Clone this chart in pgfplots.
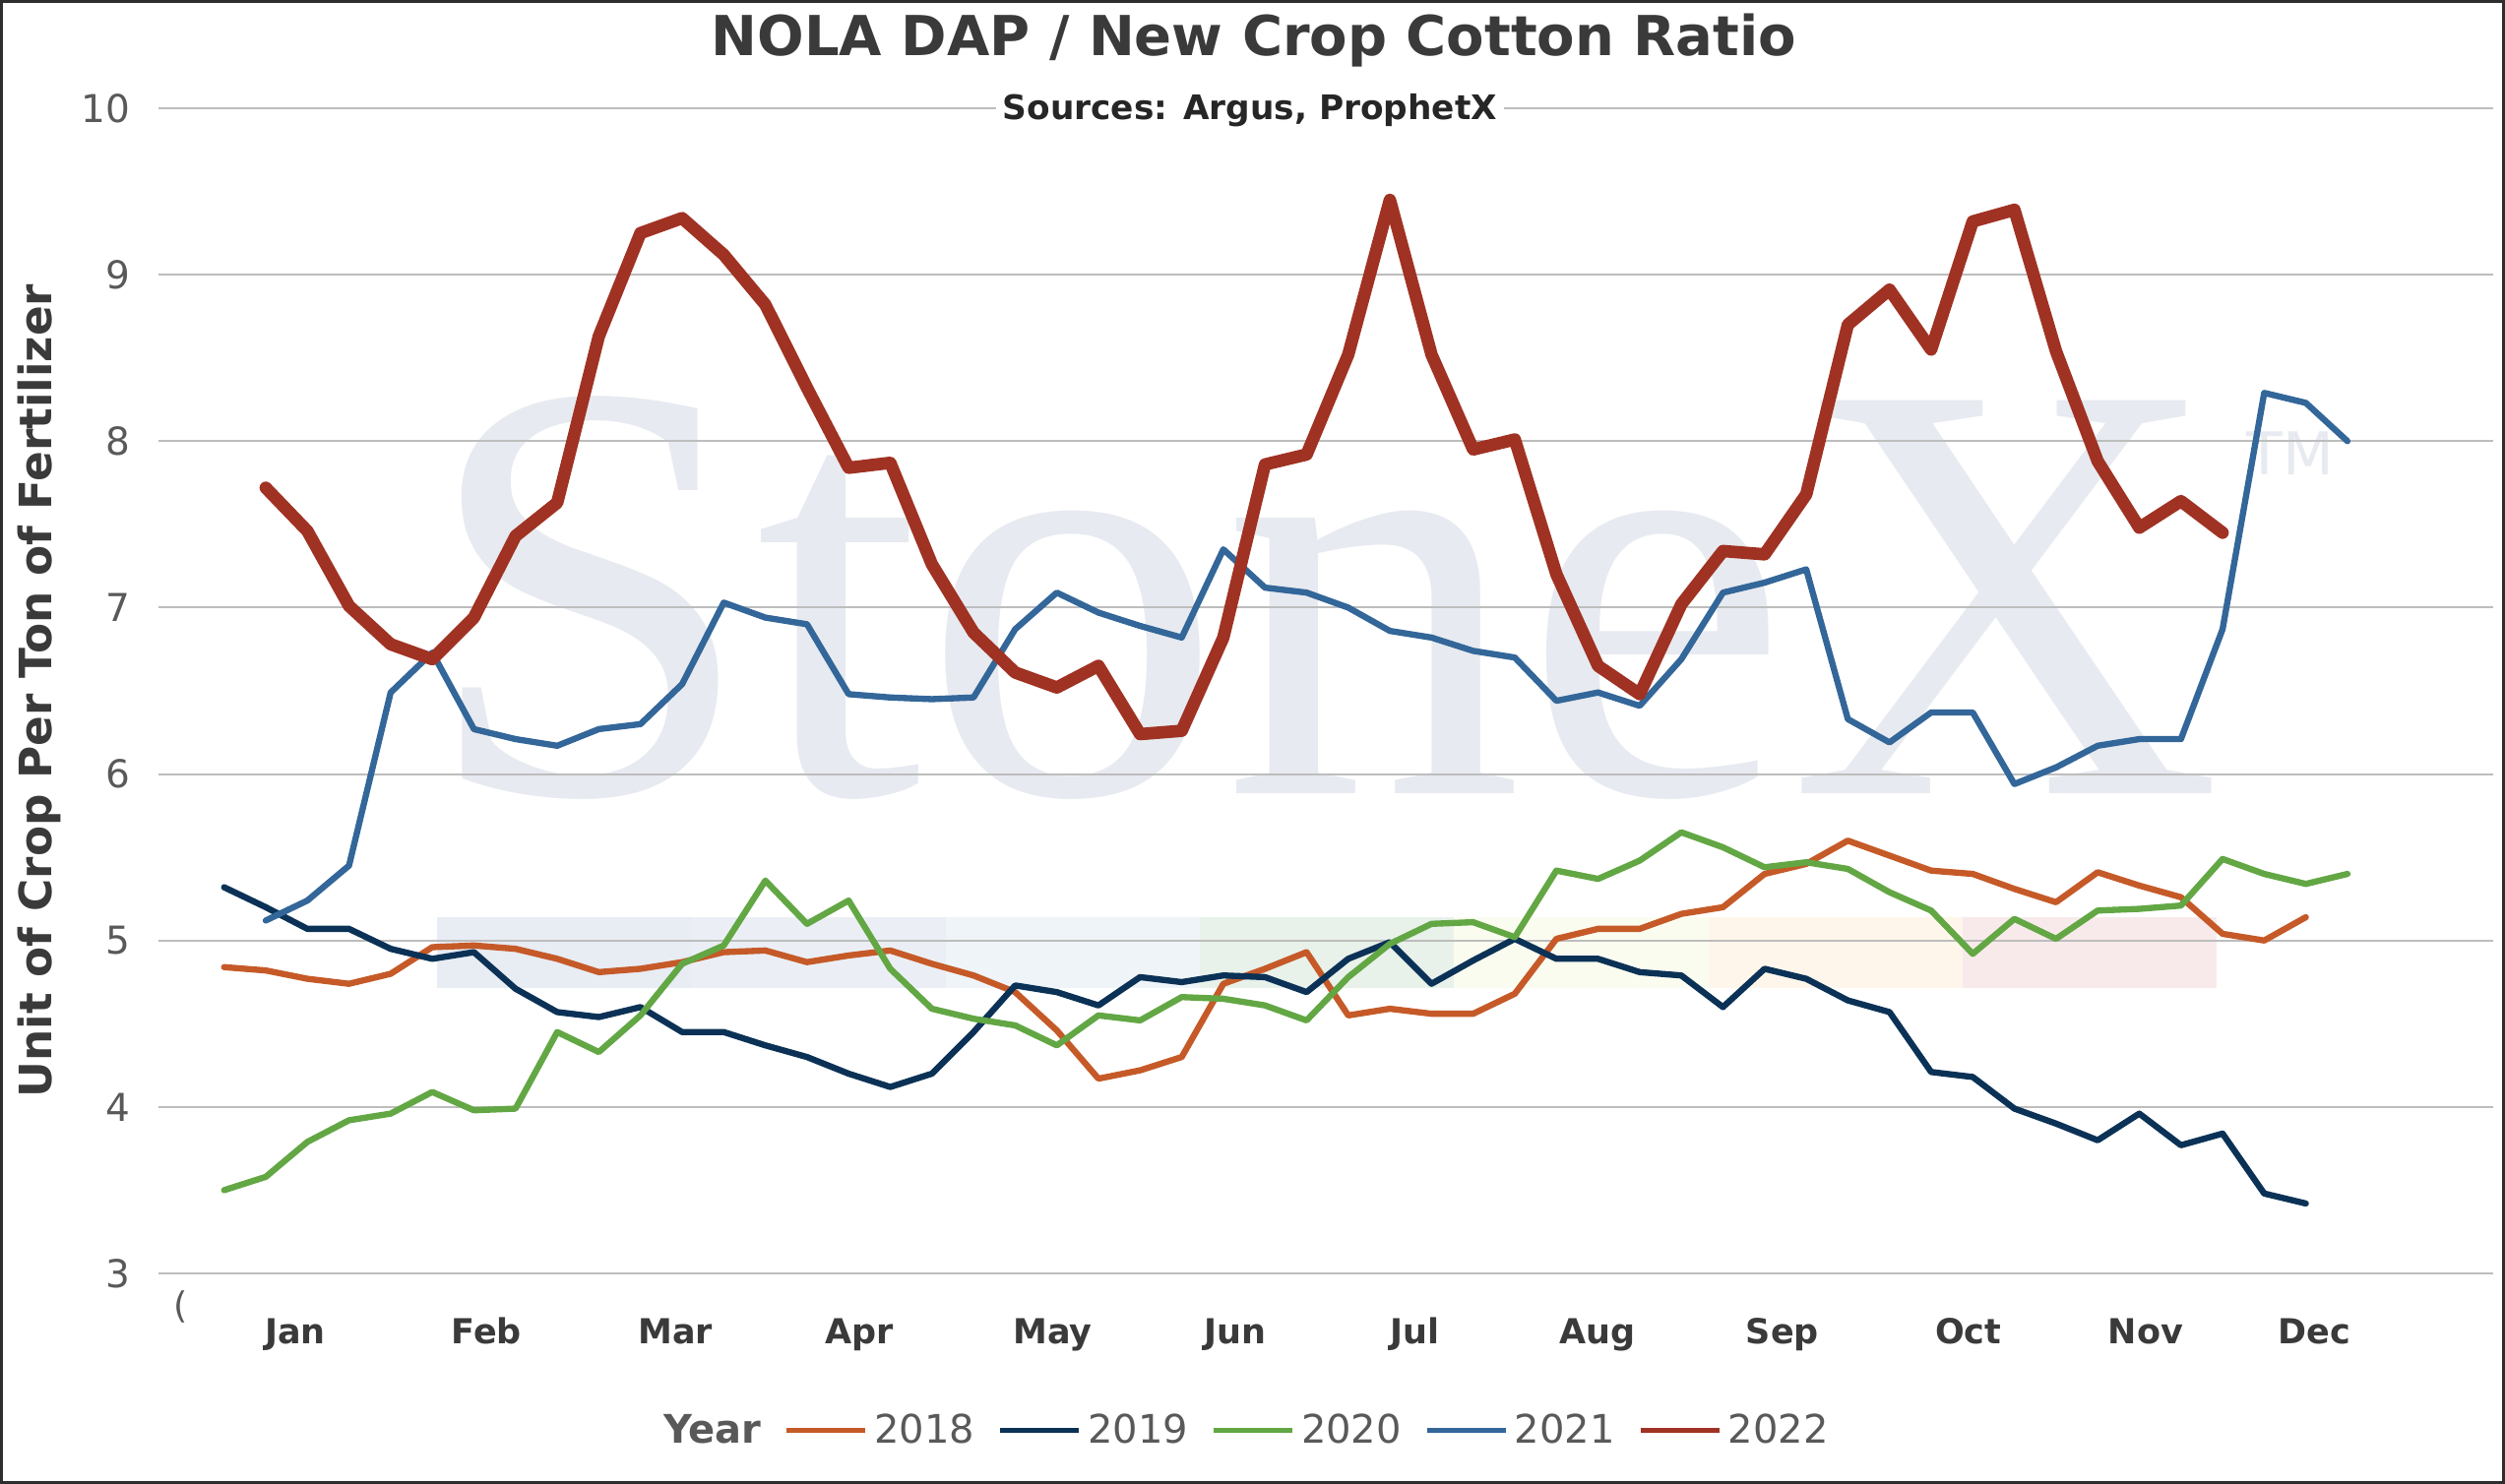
\documentclass[border=0pt]{standalone}
\usepackage{fontspec}
\setmainfont{DejaVu Sans}
\newfontfamily\wmfont{Liberation Serif}
\usepackage{pgfplots}
\pgfplotsset{compat=1.18}
\definecolor{c18}{HTML}{C55A28}
\definecolor{c19}{HTML}{0B3256}
\definecolor{c20}{HTML}{62A744}
\definecolor{c21}{HTML}{336699}
\definecolor{c22}{HTML}{A03223}
\definecolor{gridc}{HTML}{BDBDBD}
\definecolor{tickc}{HTML}{595959}
\definecolor{darkc}{HTML}{3A3A3A}
\definecolor{wm}{HTML}{E7EAF0}
\definecolor{s1}{HTML}{E8ECF3}
\definecolor{s2}{HTML}{EBEFF5}
\definecolor{s3}{HTML}{EFF4F8}
\definecolor{s4}{HTML}{E8F1EA}
\definecolor{s5}{HTML}{FBFCF0}
\definecolor{s6}{HTML}{FEF6EB}
\definecolor{s7}{HTML}{F8EAEB}
\definecolor{framec}{HTML}{2E2E2E}
\begin{document}
\begin{tikzpicture}
\useasboundingbox (0pt,0pt) rectangle (763.5pt,452.4pt);
% decorative background strip and watermark
\fill[s1] (133.2pt,151.2pt) rectangle (210.75pt,172.8pt);
\fill[s2] (210.75pt,151.2pt) rectangle (288.3pt,172.8pt);
\fill[s3] (288.3pt,151.2pt) rectangle (365.8pt,172.8pt);
\fill[s4] (365.8pt,151.2pt) rectangle (443.0pt,172.8pt);
\fill[s5] (443.0pt,151.2pt) rectangle (520.65pt,172.8pt);
\fill[s6] (520.65pt,151.2pt) rectangle (598.05pt,172.8pt);
\fill[s7] (598.05pt,151.2pt) rectangle (675.5pt,172.8pt);
\node[anchor=base, inner sep=0pt, text=wm, font=\wmfont\fontsize{183}{183}\selectfont] at (403pt,210.3pt) {StoneX};
\node[inner sep=0pt, text=wm, font=\fontsize{18}{18}\selectfont] at (698.1pt,314.1pt) {TM};
\begin{axis}[
  scale only axis, width=711.69pt, height=355.2pt,
  at={(48.21pt,64.2pt)}, anchor=south west,
  xmin=-1.584, xmax=54.5, ymin=3, ymax=10,
  ytick={3,4,5,6,7,8,9,10},
  xtick={1.71,6.30,10.84,15.26,19.90,24.28,28.61,32.99,37.43,41.89,46.15,50.21},
  xticklabels={Jan,Feb,Mar,Apr,May,Jun,Jul,Aug,Sep,Oct,Nov,Dec},
  ymajorgrids, grid style={color=gridc, line width=0.6pt},
  axis line style={draw=none},
  major tick length=0pt, tick style={draw=none},
  /pgf/number format/assume math mode=true,
  yticklabel style={font=\fontsize{11.7}{12}\selectfont, text=tickc, anchor=east, inner sep=0pt, xshift=-8.3pt},
  xticklabel style={font=\bfseries\fontsize{10.5}{12}\selectfont, text=darkc, anchor=base, inner sep=0pt, yshift=-21.5pt},
  every axis plot/.append style={line join=round, line cap=round, line width=1.9pt},
  legend columns=-1,
  legend style={draw=none, fill=none, at={(0.4659,-0.1351)}, anchor=center,
    font=\fontsize{12}{12}\selectfont, text=tickc,
    /tikz/every even column/.append style={column sep=5pt}},
  legend image code/.code={\draw[#1, line width=1.5pt, line cap=butt] (0pt,0pt) -- (24pt,0pt);},
]
\addlegendimage{empty legend}
\addlegendentry{\textbf{Year}}
\addplot[c18] coordinates {(0,4.84) (1,4.82) (2,4.77) (3,4.74) (4,4.80) (5,4.96) (6,4.97) (7,4.95) (8,4.89) (9,4.81) (10,4.83) (11,4.87) (12,4.93) (13,4.94) (14,4.87) (15,4.91) (16,4.94) (17,4.86) (18,4.79) (19,4.69) (20,4.46) (21,4.17) (22,4.22) (23,4.30) (24,4.74) (25,4.83) (26,4.93) (27,4.55) (28,4.59) (29,4.56) (30,4.56) (31,4.68) (32,5.01) (33,5.07) (34,5.07) (35,5.16) (36,5.20) (37,5.40) (38,5.46) (39,5.60) (40,5.51) (41,5.42) (42,5.40) (43,5.31) (44,5.23) (45,5.41) (46,5.33) (47,5.26) (48,5.04) (49,5.00) (50,5.14)};
\addlegendentry{2018}
\addplot[c19] coordinates {(0,5.32) (1,5.20) (2,5.07) (3,5.07) (4,4.95) (5,4.89) (6,4.93) (7,4.71) (8,4.57) (9,4.54) (10,4.60) (11,4.45) (12,4.45) (13,4.37) (14,4.30) (15,4.20) (16,4.12) (17,4.20) (18,4.45) (19,4.73) (20,4.69) (21,4.61) (22,4.78) (23,4.75) (24,4.79) (25,4.78) (26,4.69) (27,4.89) (28,4.99) (29,4.74) (30,4.88) (31,5.01) (32,4.89) (33,4.89) (34,4.81) (35,4.79) (36,4.60) (37,4.83) (38,4.77) (39,4.64) (40,4.57) (41,4.21) (42,4.18) (43,3.99) (44,3.90) (45,3.80) (46,3.96) (47,3.77) (48,3.84) (49,3.48) (50,3.42)};
\addlegendentry{2019}
\addplot[c20] coordinates {(0,3.50) (1,3.58) (2,3.79) (3,3.92) (4,3.96) (5,4.09) (6,3.98) (7,3.99) (8,4.45) (9,4.33) (10,4.55) (11,4.86) (12,4.97) (13,5.36) (14,5.10) (15,5.24) (16,4.83) (17,4.59) (18,4.53) (19,4.49) (20,4.37) (21,4.55) (22,4.52) (23,4.66) (24,4.65) (25,4.61) (26,4.52) (27,4.78) (28,4.98) (29,5.10) (30,5.11) (31,5.02) (32,5.42) (33,5.37) (34,5.48) (35,5.65) (36,5.56) (37,5.44) (38,5.47) (39,5.43) (40,5.29) (41,5.18) (42,4.92) (43,5.13) (44,5.01) (45,5.18) (46,5.19) (47,5.21) (48,5.49) (49,5.40) (50,5.34) (51,5.40)};
\addlegendentry{2020}
\addplot[c21] coordinates {(1,5.12) (2,5.24) (3,5.45) (4,6.49) (5,6.73) (6,6.27) (7,6.21) (8,6.17) (9,6.27) (10,6.30) (11,6.54) (12,7.03) (13,6.94) (14,6.90) (15,6.48) (16,6.46) (17,6.45) (18,6.46) (19,6.87) (20,7.09) (21,6.97) (22,6.89) (23,6.82) (24,7.35) (25,7.12) (26,7.09) (27,7.00) (28,6.86) (29,6.82) (30,6.74) (31,6.70) (32,6.44) (33,6.49) (34,6.41) (35,6.69) (36,7.09) (37,7.15) (38,7.23) (39,6.33) (40,6.19) (41,6.37) (42,6.37) (43,5.94) (44,6.04) (45,6.17) (46,6.21) (47,6.21) (48,6.87) (49,8.29) (50,8.23) (51,8.00)};
\addlegendentry{2021}
\addplot[c22, line width=3.8pt] coordinates {(1,7.72) (2,7.46) (3,7.01) (4,6.78) (5,6.69) (6,6.94) (7,7.43) (8,7.63) (9,8.63) (10,9.25) (11,9.34) (12,9.12) (13,8.82) (14,8.32) (15,7.84) (16,7.87) (17,7.26) (18,6.85) (19,6.61) (20,6.52) (21,6.65) (22,6.24) (23,6.26) (24,6.82) (25,7.86) (26,7.92) (27,8.52) (28,9.45) (29,8.52) (30,7.95) (31,8.01) (32,7.20) (33,6.65) (34,6.48) (35,7.02) (36,7.34) (37,7.32) (38,7.68) (39,8.70) (40,8.91) (41,8.55) (42,9.32) (43,9.39) (44,8.54) (45,7.88) (46,7.48) (47,7.64) (48,7.45)};
\addlegendentry{2022}
\end{axis}
\node[anchor=base, inner sep=0pt, text=darkc, font=\bfseries\fontsize{16.8}{17}\selectfont] at (382.2pt,435.3pt) {NOLA DAP / New Crop Cotton Ratio};
\node[anchor=base, inner sep=2pt, fill=white, text=black!85, font=\bfseries\fontsize{10.3}{11}\selectfont] at (381pt,415.9pt) {Sources: Argus, ProphetX};
\node[anchor=base, inner sep=0pt, rotate=90, text=darkc, font=\bfseries\fontsize{13.6}{14}\selectfont] at (15.6pt,241.8pt) {Unit of Crop Per Ton of Fertilizer};
\node[inner sep=0pt, text=tickc, font=\fontsize{11}{11}\selectfont] at (55.2pt,54pt) {(};
\draw[line width=0.9pt, color=framec] (0.45pt,0.45pt) rectangle (763.05pt,451.95pt);
\end{tikzpicture}
\end{document}
